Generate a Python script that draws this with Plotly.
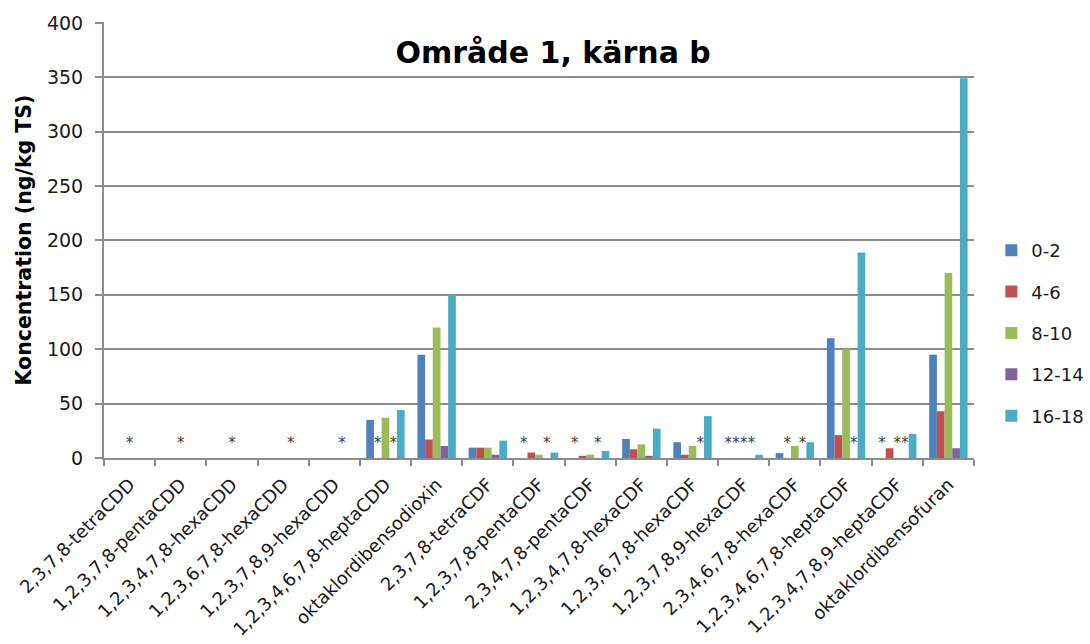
import plotly.graph_objects as go

# Congener names (x axis)
categories = [
    "2,3,7,8-tetraCDD",
    "1,2,3,7,8-pentaCDD",
    "1,2,3,4,7,8-hexaCDD",
    "1,2,3,6,7,8-hexaCDD",
    "1,2,3,7,8,9-hexaCDD",
    "1,2,3,4,6,7,8-heptaCDD",
    "oktaklordibensodioxin",
    "2,3,7,8-tetraCDF",
    "1,2,3,7,8-pentaCDF",
    "2,3,4,7,8-pentaCDF",
    "1,2,3,4,7,8-hexaCDF",
    "1,2,3,6,7,8-hexaCDF",
    "1,2,3,7,8,9-hexaCDF",
    "2,3,4,6,7,8-hexaCDF",
    "1,2,3,4,6,7,8-heptaCDF",
    "1,2,3,4,7,8,9-heptaCDF",
    "oktaklordibensofuran",
]

# Depth intervals (cm)
series_names = ["0-2", "4-6", "8-10", "12-14", "16-18"]

# Concentrations in ng/kg TS; None = below detection limit (marked with *)
depth_0_2 = [0, 0, 0, 0, 0, 35, 95, 9.5, None, None, 17.5, 14.5, None, 4.5, 110, None, 95]
depth_4_6 = [0, 0, 0, 0, 0, None, 17, 9.5, 5, 2, 8, 3, None, None, 21, 9, 43]
depth_8_10 = [None, None, None, 0, 0, 37, 120, 9.5, 3, 3, 12.5, 11, None, 11, 100, None, 170]
depth_12_14 = [0, 0, 0, None, None, None, 11, 3, None, None, 2, None, None, None, None, None, 9]
depth_16_18 = [0, 0, 0, 0, 0, 44, 150, 16, 5, 6.5, 27, 38.5, 3, 14.5, 189, 22, 349]

series_values = [depth_0_2, depth_4_6, depth_8_10, depth_12_14, depth_16_18]
colors = ["#4F81BD", "#C0504D", "#9BBB59", "#8064A2", "#4BACC6"]

font_family = "'DejaVu Sans', sans-serif"
text_col = "#1a1a1a"
bargap = 0.25
n_series = len(series_names)
bar_w = (1 - bargap) / n_series
x_pos = list(range(len(categories)))

fig = go.Figure()

for k, (name, vals, col) in enumerate(zip(series_names, series_values, colors)):
    fig.add_trace(go.Bar(
        x=x_pos,
        y=[v if v is not None else 0 for v in vals],
        name=name,
        marker=dict(color=col, line=dict(width=0)),
        legendgroup=name,
    ))

# Asterisks for values below the detection limit
star_x, star_y = [], []
for k, vals in enumerate(series_values):
    offset = -(1 - bargap) / 2 + bar_w * (k + 0.5)
    for i, v in enumerate(vals):
        if v is None:
            star_x.append(i + offset)
            star_y.append(13)

fig.add_trace(go.Scatter(
    x=star_x, y=star_y, mode="text", text=["*"] * len(star_x),
    textfont=dict(family=font_family, size=15, color="#404040"),
    showlegend=False, hoverinfo="skip",
))

grid_col = "#8c8c8c"

fig.update_layout(
    width=1090, height=644,
    margin=dict(l=104, r=116, t=22, b=186, autoexpand=False),
    paper_bgcolor="white", plot_bgcolor="white",
    barmode="group", bargap=bargap, bargroupgap=0,
    font=dict(family=font_family, size=19, color=text_col),
    title=dict(
        text="<b>Område 1, kärna b</b>",
        x=0.5075, xanchor="center", y=0.918, yanchor="middle",
        font=dict(family=font_family, size=30, color="black"),
    ),
    legend=dict(
        xref="container", yref="container",
        x=0.9095, xanchor="left", y=0.483, yanchor="middle",
        font=dict(family=font_family, size=18, color=text_col),
        tracegroupgap=15, itemwidth=30,
    ),
    showlegend=True,
)

fig.update_xaxes(
    automargin=False,
    range=[-0.5, len(categories) - 0.5],
    tickmode="array", tickvals=x_pos, ticktext=categories,
    tickangle=-45, ticks="", showgrid=False,
    ticklabelstandoff=7,
    showline=True, linecolor=grid_col, linewidth=2,
    tickfont=dict(family=font_family, size=18, color=text_col),
    minor=dict(
        tickmode="array",
        tickvals=[i - 0.5 for i in range(len(categories) + 1)],
        ticks="outside", ticklen=6, tickwidth=2, tickcolor=grid_col,
        showgrid=False,
    ),
    zeroline=False,
)

fig.update_yaxes(
    automargin=False,
    range=[0, 400.8], tickmode="array", tickvals=list(range(0, 401, 50)),
    showgrid=True, gridcolor=grid_col, gridwidth=2,
    showline=True, linecolor=grid_col, linewidth=2,
    ticks="outside", ticklen=7, tickwidth=2, tickcolor=grid_col,
    ticklabelstandoff=8,
    tickfont=dict(family=font_family, size=19, color=text_col),
    zeroline=False,
    title=dict(
        text="<b>Koncentration (ng/kg TS)</b>",
        font=dict(family=font_family, size=20.5, color="black"),
        standoff=10,
    ),
)

fig.write_html("out.html")
